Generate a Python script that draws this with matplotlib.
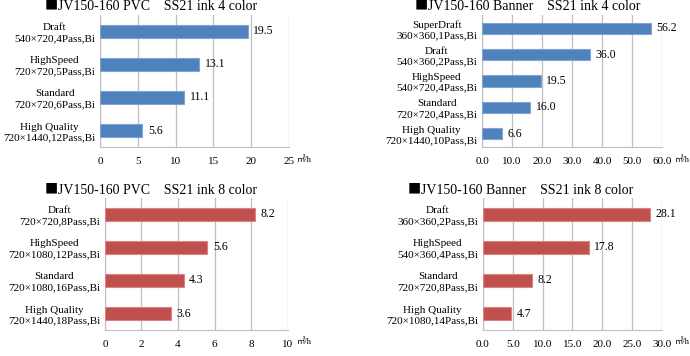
import matplotlib.pyplot as plt
from matplotlib.ticker import FormatStrFormatter

plt.rcParams['font.family'] = ['Liberation Serif', 'Noto Sans CJK JP', 'DejaVu Sans']

# data
pvc4_labels = ["Draft\n540×720,4Pass,Bi", "HighSpeed\n720×720,5Pass,Bi",
               "Standard\n720×720,6Pass,Bi", "High Quality\n720×1440,12Pass,Bi"]
pvc4_values = [19.5, 13.1, 11.1, 5.6]

ban4_labels = ["SuperDraft\n360×360,1Pass,Bi", "Draft\n540×360,2Pass,Bi",
               "HighSpeed\n540×720,4Pass,Bi", "Standard\n720×720,4Pass,Bi",
               "High Quality\n720×1440,10Pass,Bi"]
ban4_values = [56.2, 36.0, 19.5, 16.0, 6.6]

pvc8_labels = ["Draft\n720×720,8Pass,Bi", "HighSpeed\n720×1080,12Pass,Bi",
               "Standard\n720×1080,16Pass,Bi", "High Quality\n720×1440,18Pass,Bi"]
pvc8_values = [8.2, 5.6, 4.3, 3.6]

ban8_labels = ["Draft\n360×360,2Pass,Bi", "HighSpeed\n540×360,4Pass,Bi",
               "Standard\n720×720,8Pass,Bi", "High Quality\n720×1080,14Pass,Bi"]
ban8_values = [28.1, 17.8, 8.2, 4.7]

blue, blue_edge = '#4F81BD', '#7FA6D6'
red, red_edge = '#C0504D', '#D98583'

W, H = 690, 356
fig = plt.figure(figsize=(6.9, 3.56), dpi=100)


def panel(rect, labels, values, xmax, step, fmt, color, edge, title, tx, ty, bh, ux, uy):
    ax = fig.add_axes(rect)
    n = len(labels)
    ypos = list(range(n))[::-1]
    ax.barh(ypos, values, height=bh, color=color, edgecolor=edge, linewidth=0.8, zorder=3)
    for y, v in zip(ypos, values):
        ax.text(v + xmax * 0.03, y, f"{v:.1f}", va='center', ha='left', fontsize=8.5)
    ax.set_xlim(0, xmax)
    ax.set_ylim(-0.5, n - 0.5)
    ticks = [i * step for i in range(int(round(xmax / step)) + 1)]
    ax.set_xticks(ticks)
    ax.xaxis.set_major_formatter(FormatStrFormatter(fmt))
    ax.set_yticks(ypos)
    ax.set_yticklabels(labels, fontsize=8, multialignment='center', linespacing=1.25)
    ax.tick_params(length=0, labelsize=8)
    ax.tick_params(axis='x', pad=7)
    ax.grid(axis='x', color='#BFBFBF', linewidth=0.9, zorder=0)
    for s in ['top', 'right']:
        ax.spines[s].set_visible(False)
    for s in ['left', 'bottom']:
        ax.spines[s].set_color('#BFBFBF')
    fig.text(ux / W, 1 - uy / H, "㎡/h", fontsize=6, ha='left', va='center')
    # title: full-width square in a CJK font, rest in serif right after it
    sq = fig.text(tx / W, 1 - ty / H, "■", ha='left', va='center', fontsize=9.5,
                  family=['Noto Sans CJK JP'])
    fig.texts.append(plt.Annotation(title, xy=(1, 0.5), xycoords=sq, xytext=(0, 0),
                                    textcoords='offset points', ha='left', va='center',
                                    fontsize=10, figure=fig))
    return ax


panel([0.145, 0.587, 0.274, 0.371], pvc4_labels, pvc4_values, 25, 5, '%d',
      blue, blue_edge, "JV150-160 PVC　SS21 ink 4 color", 45, 6, 0.37, 297, 160)
panel([0.6986, 0.587, 0.261, 0.371], ban4_labels, ban4_values, 60, 10, '%.1f',
      blue, blue_edge, "JV150-160 Banner　SS21 ink 4 color", 415, 6, 0.42, 675, 160)
panel([0.152, 0.073, 0.265, 0.371], pvc8_labels, pvc8_values, 10, 2, '%d',
      red, red_edge, "JV150-160 PVC　SS21 ink 8 color", 45, 190, 0.4, 297, 342)
panel([0.700, 0.073, 0.259, 0.371], ban8_labels, ban8_values, 30, 5, '%.1f',
      red, red_edge, "JV150-160 Banner　SS21 ink 8 color", 408, 190, 0.4, 675, 342)

fig.savefig('out.png', dpi=100, facecolor='white')
